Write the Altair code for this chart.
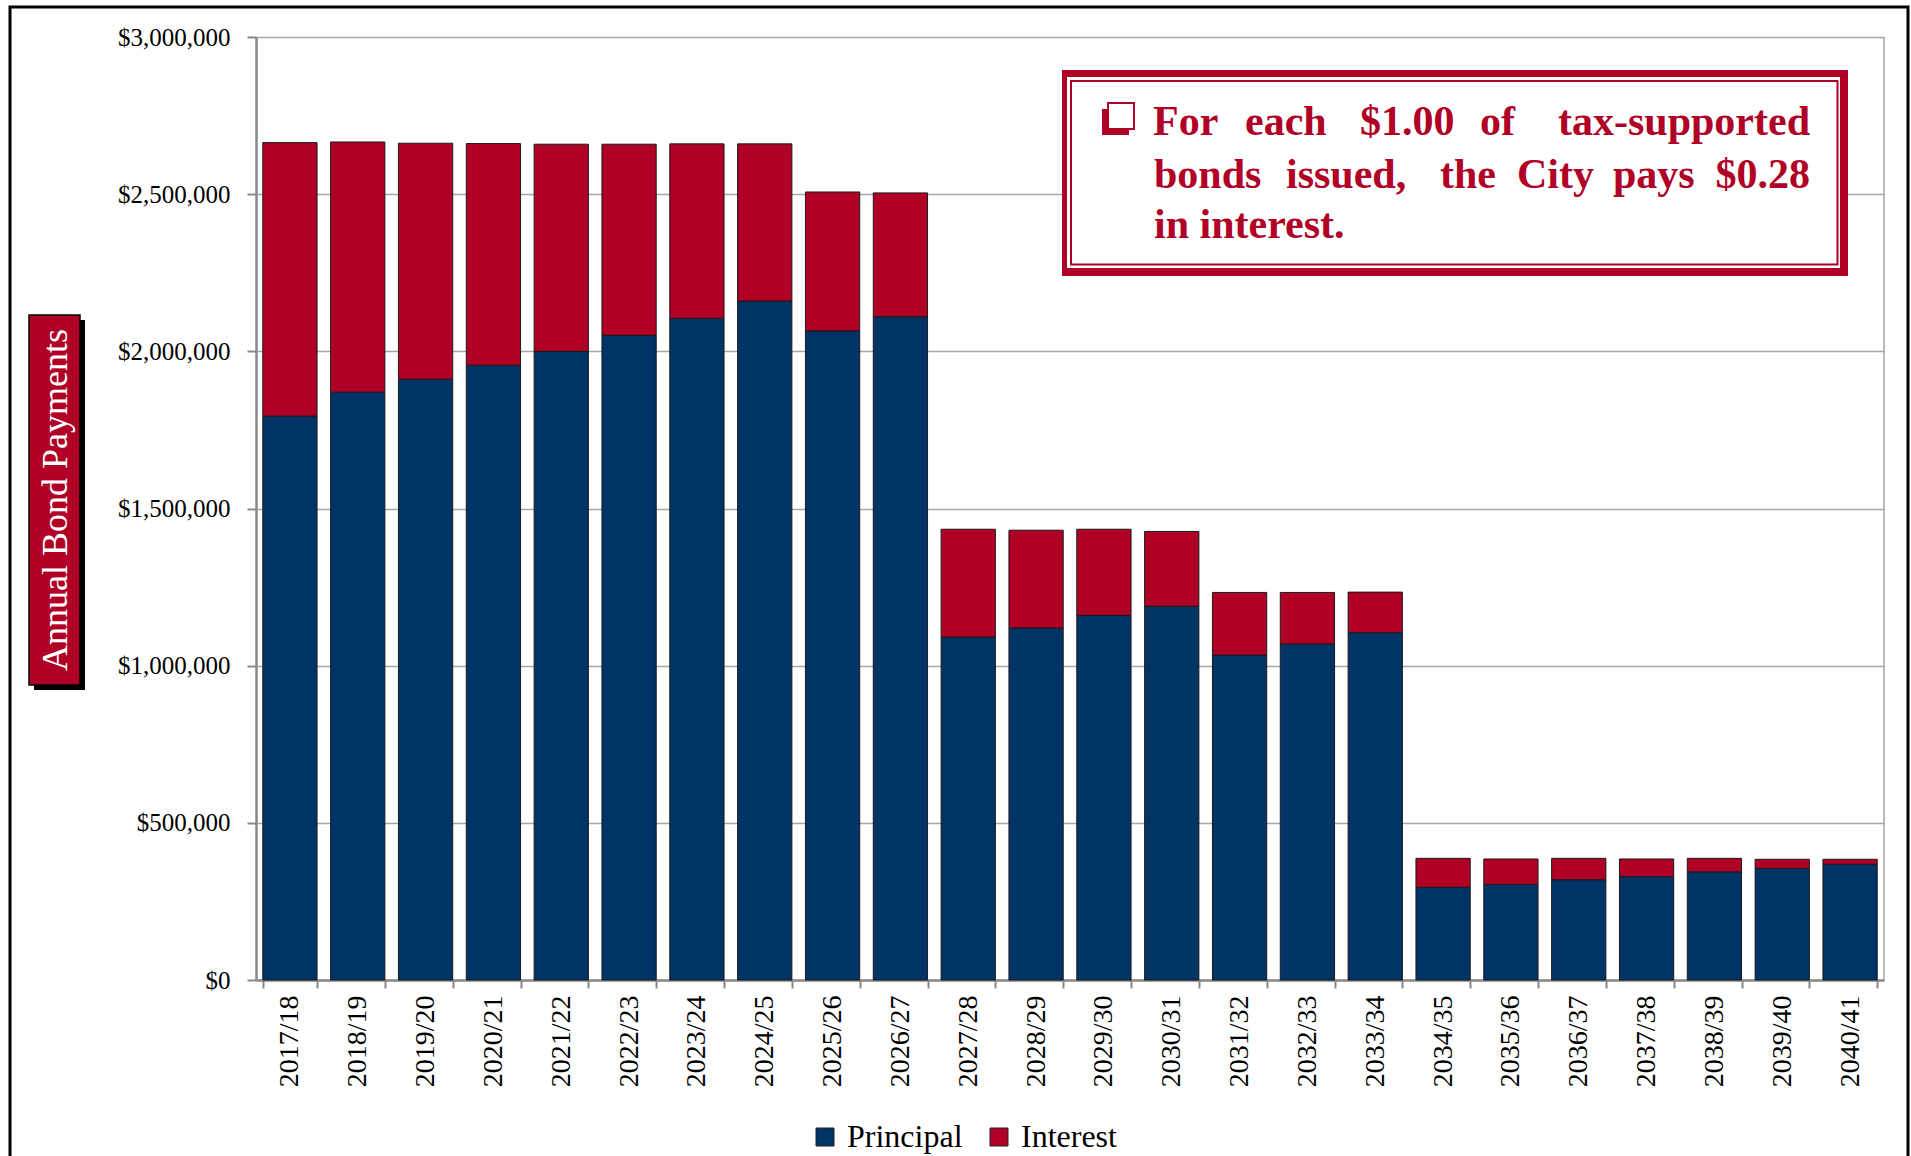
import altair as alt
import pandas as pd

years = ["2017/18", "2018/19", "2019/20", "2020/21", "2021/22", "2022/23", "2023/24",
         "2024/25", "2025/26", "2026/27", "2027/28", "2028/29", "2029/30", "2030/31",
         "2031/32", "2032/33", "2033/34", "2034/35", "2035/36", "2036/37", "2037/38",
         "2038/39", "2039/40", "2040/41"]
principal = [1794000, 1870000, 1911000, 1956000, 2000000, 2051000, 2105000, 2160000,
             2065000, 2110000, 1091000, 1120000, 1160000, 1189000, 1034000, 1069000,
             1105000, 295000, 304000, 319000, 329000, 344000, 355000, 368000]
interest = [870000, 796000, 751000, 705000, 659000, 608000, 555000, 500000,
            442000, 394000, 343000, 311000, 274000, 238000, 199000, 164000,
            129000, 92000, 81000, 68000, 56000, 43000, 29000, 16000]
series = ["Principal", "Interest"]
y_ticks = [0, 500000, 1000000, 1500000, 2000000, 2500000, 3000000]
y_title = "Annual Bond Payments"
callout_line1 = ["For", "each", "$1.00", "of", "tax-supported"]
callout_line2 = ["bonds", "issued,", "the", "City", "pays", "$0.28"]
callout_line3 = "in interest."

NAVY = "#003366"
RED = "#B00026"
FONT = "Liberation Serif"

rows = []
for i, yr in enumerate(years):
    rows.append({"year": yr, "type": "Principal", "value": principal[i], "ord": 0})
    rows.append({"year": yr, "type": "Interest", "value": interest[i], "ord": 1})
df = pd.DataFrame(rows)

W, H = 1628, 943
one = alt.Data(values=[{}])


def rect(x1, x2, y1, y2, **kw):
    return alt.Chart(one).mark_rect(**kw).encode(
        x=alt.value(x1), x2=alt.value(x2), y=alt.value(y1), y2=alt.value(y2))


def text(s, x, y, **kw):
    return alt.Chart(one).mark_text(text=s, **kw).encode(x=alt.value(x), y=alt.value(y))


# outer frame
frame = rect(-246, 1652, -30, 1250, fill="white", fillOpacity=0, stroke="black", strokeWidth=3)

bars = alt.Chart(df).mark_bar(stroke="#1a1a1a", strokeWidth=1).encode(
    x=alt.X("year:N", sort=years, title=None,
            scale=alt.Scale(paddingInner=0.2, paddingOuter=0.1),
            axis=alt.Axis(labelAngle=270, tickBand="extent", tickSize=8, labelPadding=7,
                          labelFontSize=28, grid=False)),
    y=alt.Y("value:Q", stack="zero", title=None,
            scale=alt.Scale(domain=[0, 3000000], nice=False),
            axis=alt.Axis(values=y_ticks, format="$,.0f", tickSize=9, labelPadding=17,
                          labelFontSize=25, grid=True)),
    color=alt.Color("type:N", scale=alt.Scale(domain=series, range=[NAVY, RED]),
                    legend=alt.Legend(orient="none", legendX=553, legendY=1084,
                                      direction="horizontal", title=None,
                                      symbolType="square", symbolSize=324,
                                      symbolStrokeColor="#222", symbolStrokeWidth=1,
                                      labelFont=FONT, labelFontSize=32, labelColor="black",
                                      labelOffset=6, columnPadding=20)),
    order=alt.Order("ord:Q"),
)

right_edge = alt.Chart(one).mark_rule(color="#A6A6A6", strokeWidth=1.5).encode(
    x=alt.value(W), y=alt.value(0), y2=alt.value(H))

# callout box
box = [
    rect(806, 1592, 33, 239, fill=RED),
    rect(811, 1584, 40, 231, fill="white"),
    rect(815, 1581.5, 44, 227.5, fill="white", stroke=RED, strokeWidth=2),
    rect(846, 873, 72, 98, fill=RED),
    rect(852, 878, 66, 92, fill="white", stroke=RED, strokeWidth=2),
]
tstyle = dict(font=FONT, fontSize=42, fontWeight="bold", color=RED, baseline="alphabetic")
l1x = [897, 989, 1104, 1224]
l2x = [898, 1030, 1184, 1261, 1357]
words = []
for w, x in zip(callout_line1[:-1], l1x):
    words.append(text(w, x, 98, align="left", **tstyle))
words.append(text(callout_line1[-1], 1554, 98, align="right", **tstyle))
for w, x in zip(callout_line2[:-1], l2x):
    words.append(text(w, x, 151, align="left", **tstyle))
words.append(text(callout_line2[-1], 1554, 151, align="right", **tstyle))
words.append(text(callout_line3, 898, 201, align="left", **tstyle))

# y-axis title box
ytitle = [
    rect(-222, -171, 283, 653, fill="black"),
    rect(-227, -176, 278, 648, fill=RED, stroke="black", strokeWidth=1.5),
    text(y_title, -200, 463, angle=270, align="center", baseline="middle",
         font=FONT, fontSize=36, color="white"),
]

chart = alt.layer(frame, bars, right_edge, *box, *words, *ytitle).properties(
    width=W, height=H,
    autosize=alt.AutoSizeParams(type="none"),
    padding={"left": 256, "top": 37, "right": 27, "bottom": 176},
    background="white",
).configure_view(strokeWidth=0).configure_axis(
    labelFont=FONT, labelColor="black",
    domainColor="#888888", domainWidth=2.5,
    tickColor="#888888", tickWidth=2,
    gridColor="#A6A6A6", gridWidth=1.5,
)

chart.save("out.html", embed_options={"renderer": "svg", "actions": False})
